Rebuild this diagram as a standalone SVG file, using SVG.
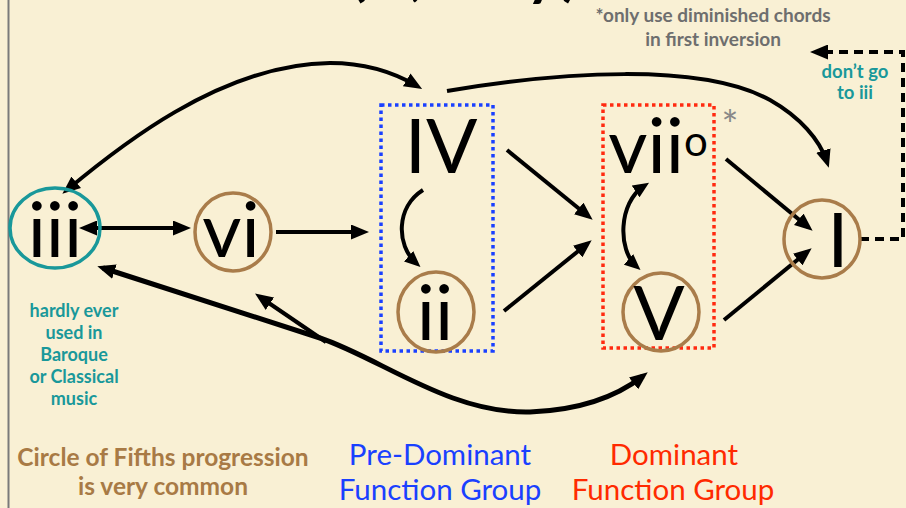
<svg xmlns="http://www.w3.org/2000/svg" width="906" height="508" viewBox="0 0 906 508">
  <defs>
    <marker id="head" markerUnits="userSpaceOnUse" viewBox="0 0 18 15" markerWidth="18" markerHeight="15" refX="12" refY="7.5" orient="auto-start-reverse">
      <path d="M0,0 L18,7.5 L0,15 z" fill="#000" stroke="none"/>
    </marker>
    <marker id="headSmall" markerUnits="userSpaceOnUse" viewBox="0 0 16 14" markerWidth="16" markerHeight="14" refX="10" refY="7" orient="auto-start-reverse">
      <path d="M0,0 L16,7 L0,14 z" fill="#000" stroke="none"/>
    </marker>
    <style>
      .bg { fill: #F9F0D4; }
      .numeral { font-family: Lato, "Open Sans", "Liberation Sans", sans-serif; font-size: 76px; fill: #000; text-anchor: middle; }
      .ring { fill: none; stroke: #A97C4A; stroke-width: 3.5; }
      .ring-teal { fill: none; stroke: #19989A; stroke-width: 3.5; }
      .group-box { fill: none; stroke-width: 3.5; stroke-dasharray: 3.5 3.5; }
      .wire { fill: none; stroke: #000; stroke-width: 4; }
      .wire-thick { fill: none; stroke: #000; stroke-width: 5; }
      .note { font-family: Lato, "Open Sans", "Liberation Sans", sans-serif; font-weight: bold; text-anchor: middle; }
      .label { font-family: Lato, "Open Sans", "Liberation Sans", sans-serif; text-anchor: middle; }
    </style>
  </defs>

  <rect class="bg" x="0" y="0" width="906" height="508"/>
  <line x1="8.5" y1="0" x2="8.5" y2="508" stroke="#7A7A7A" stroke-width="2"/>

  <!-- descenders of the heading above the frame -->
  <text font-family="Lato, 'Open Sans', sans-serif" font-weight="bold" font-size="60" fill="#000" y="-6"><tspan x="350">(</tspan><tspan x="410">,</tspan><tspan x="526">y</tspan><tspan x="562">)</tspan></text>

  <!-- footnote -->
  <text class="note" font-size="19" fill="#6E6E6E" x="713" y="22">*only use diminished chords</text>
  <text class="note" font-size="19" fill="#6E6E6E" x="713" y="46">in first inversion</text>

  <!-- connectors -->
  <g id="connectors">
    <path class="wire" d="M67,190 C115,150 220,64 330,63 C365,63 395,73 417,86" marker-start="url(#head)" marker-end="url(#head)"/>
    <path class="wire" d="M447,91 C560,72 700,62 770,100 C800,117 820,140 827,162" marker-end="url(#head)"/>
    <path class="wire" d="M85,228 L185,228" marker-start="url(#head)" marker-end="url(#head)"/>
    <path class="wire" d="M276,232 L363,232" marker-end="url(#head)"/>
    <path class="wire" d="M423,190 C396,207 396,245 416,263" stroke-width="3.5" marker-end="url(#headSmall)"/>
    <path class="wire" d="M507,150 L588,216" marker-end="url(#head)"/>
    <path class="wire" d="M504,311 L587,244" marker-end="url(#head)"/>
    <path class="wire" d="M644,186 C618,203 618,250 636,266" stroke-width="3.5" marker-start="url(#headSmall)" marker-end="url(#headSmall)"/>
    <path class="wire" d="M726,159 L808,227" marker-end="url(#head)"/>
    <path class="wire" d="M724,320 L807,252" marker-end="url(#head)"/>
    <path class="wire-thick" d="M103,268 L320,338 C380,358 450,414 530,412 C585,410 620,394 643,376" marker-start="url(#head)" marker-end="url(#head)"/>
    <path class="wire" d="M326,342 L260,297" marker-end="url(#head)"/>
    <path class="wire" d="M860,239 L903,239 L903,52 L816,52" stroke-dasharray="9 6" marker-end="url(#head)"/>
  </g>

  <!-- pre-dominant group -->
  <g id="predominant-group">
    <rect class="group-box" stroke="#1A40FF" x="381" y="105" width="112" height="246"/>
  </g>
  <!-- dominant group -->
  <g id="dominant-group">
    <rect class="group-box" stroke="#FF2A10" x="603" y="105" width="111" height="243"/>
    <text x="730" y="140" font-family="Lato, 'Open Sans', sans-serif" font-size="40" fill="#888" text-anchor="middle">*</text>
  </g>

  <g id="node-iii">
    <ellipse class="ring-teal" cx="55" cy="228" rx="45" ry="40"/>
    <text class="numeral" x="55" y="257">iii</text>
  </g>
  <g id="node-vi">
    <ellipse class="ring" cx="233" cy="232" rx="38" ry="39"/>
    <text class="numeral" x="231" y="257">vi</text>
  </g>
  <g id="node-IV">
    <text class="numeral" x="441" y="173">IV</text>
  </g>
  <g id="node-ii">
    <ellipse class="ring" cx="436" cy="312" rx="38" ry="40"/>
    <text class="numeral" x="435" y="340">ii</text>
  </g>
  <g id="node-vii">
    <text class="numeral" x="658" y="173">vii<tspan font-size="42" dy="-17">o</tspan></text>
  </g>
  <g id="node-V">
    <ellipse class="ring" cx="661" cy="312" rx="38" ry="39"/>
    <text class="numeral" x="659" y="340">V</text>
  </g>
  <g id="node-I">
    <ellipse class="ring" cx="822" cy="239" rx="38" ry="39"/>
    <text class="numeral" x="838" y="267">I</text>
  </g>

  <!-- annotations -->
  <text class="note" font-size="18.5" fill="#19989A" x="855" y="78">don’t go</text>
  <text class="note" font-size="18.5" fill="#19989A" x="855" y="99">to iii</text>

  <g class="note" font-size="18" fill="#19989A">
    <text x="74" y="317">hardly ever</text>
    <text x="74" y="339">used in</text>
    <text x="74" y="361">Baroque</text>
    <text x="74" y="383">or Classical</text>
    <text x="74" y="405">music</text>
  </g>

  <text class="note" font-size="24.5" fill="#A87A45" x="163" y="466">Circle of Fifths progression</text>
  <text class="note" font-size="24.5" fill="#A87A45" x="163" y="495">is very common</text>

  <text class="label" font-size="29.5" fill="#1A40FF" x="440" y="465">Pre-Dominant</text>
  <text class="label" font-size="29.5" fill="#1A40FF" x="440" y="500">Function Group</text>
  <text class="label" font-size="29.5" fill="#FF2A00" x="674" y="465">Dominant</text>
  <text class="label" font-size="29.5" fill="#FF2A00" x="673" y="500">Function Group</text>
</svg>
